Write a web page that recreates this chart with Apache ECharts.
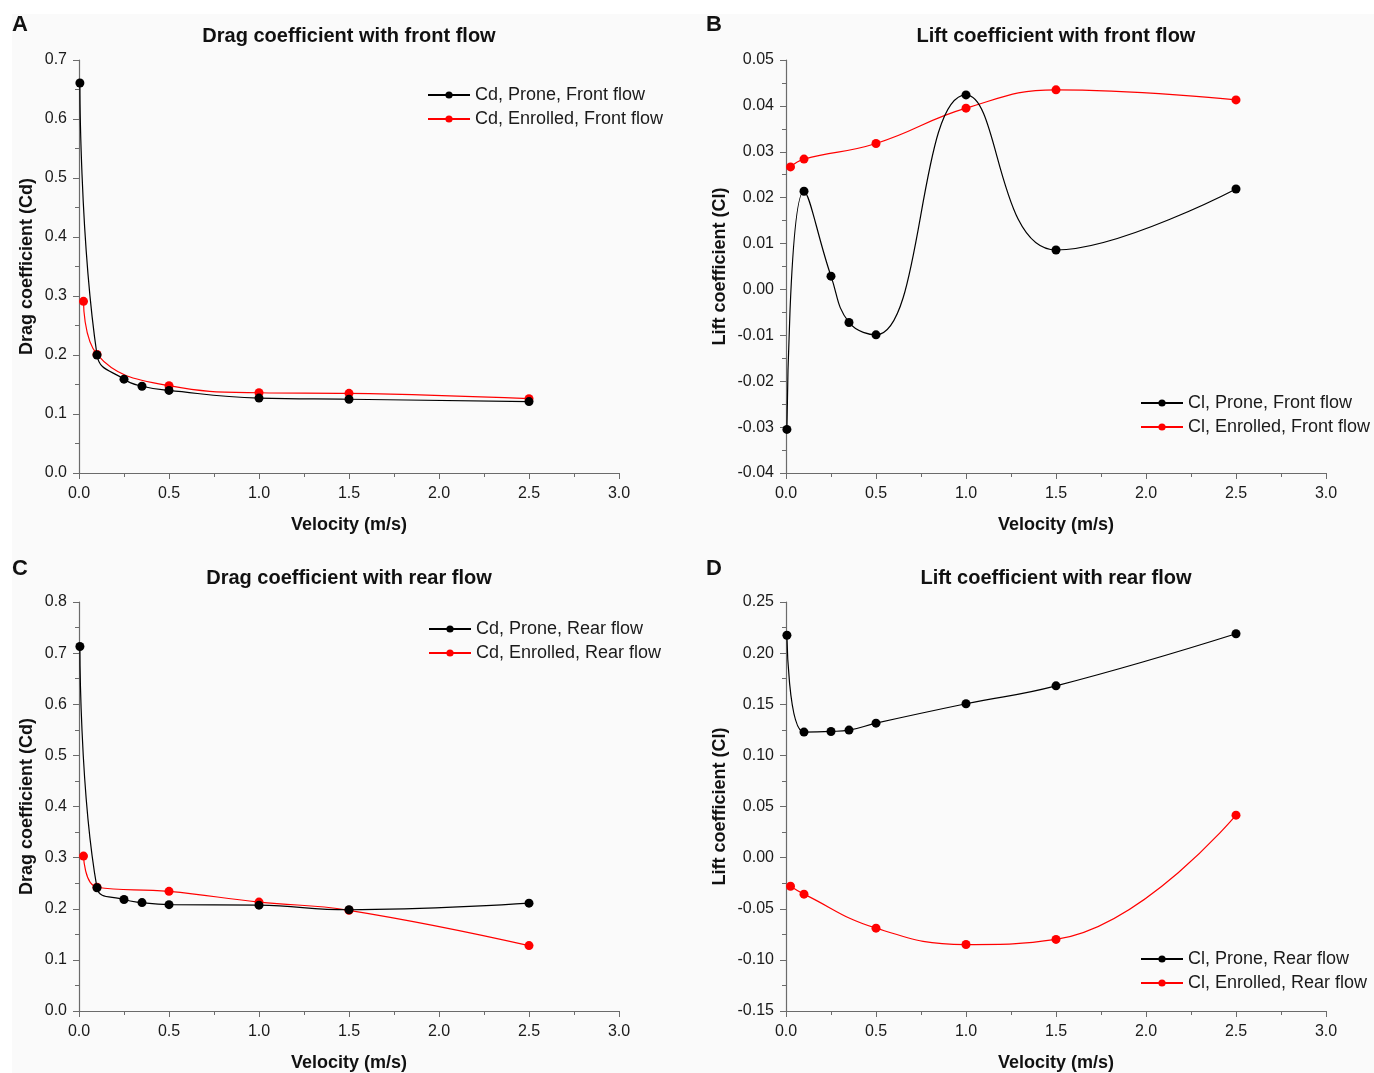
<!DOCTYPE html>
<html><head><meta charset="utf-8">
<script src="https://cdn.jsdelivr.net/npm/echarts@6/dist/echarts.min.js"></script>
<style>html,body{margin:0;padding:0;background:#fff;}#c{width:1374px;height:1073px;}</style>
</head><body><div id="c"></div>
<script>
// X values (velocity, m/s)
const xProne = [0.005, 0.1, 0.25, 0.35, 0.5, 1.0, 1.5, 2.5];
const xEnrolled = [0.025, 0.1, 0.5, 1.0, 1.5, 2.5];

// A: drag, front flow
const cdProneFront = [0.661, 0.200, 0.159, 0.147, 0.140, 0.127, 0.125, 0.121];
const cdEnrolledFront = [0.291, 0.201, 0.148, 0.136, 0.135, 0.126];
// B: lift, front flow
const clProneFront = [-0.0305, 0.0214, 0.0029, -0.0072, -0.0099, 0.0424, 0.0086, 0.0219];
const clEnrolledFront = [0.0267, 0.0284, 0.0318, 0.0395, 0.0435, 0.0413];
// C: drag, rear flow
const cdProneRear = [0.713, 0.241, 0.218, 0.212, 0.208, 0.207, 0.198, 0.211];
const cdEnrolledRear = [0.303, 0.242, 0.234, 0.213, 0.197, 0.128];
// D: lift, rear flow
const clProneRear = [0.2175, 0.1228, 0.1234, 0.1247, 0.1315, 0.1505, 0.168, 0.219];
const clEnrolledRear = [-0.028, -0.0357, -0.069, -0.085, -0.080, 0.0415];

const titles = ['Drag coefficient with front flow', 'Lift coefficient with front flow',
                'Drag coefficient with rear flow', 'Lift coefficient with rear flow'];
const letters = ['A', 'B', 'C', 'D'];
const yNames = ['Drag coefficient (Cd)', 'Lift coefficient (Cl)', 'Drag coefficient (Cd)', 'Lift coefficient (Cl)'];
const xName = 'Velocity (m/s)';
const seriesNames = [
  ['Cd, Prone, Front flow', 'Cd, Enrolled, Front flow'],
  ['Cl, Prone, Front flow', 'Cl, Enrolled, Front flow'],
  ['Cd, Prone, Rear flow', 'Cd, Enrolled, Rear flow'],
  ['Cl, Prone, Rear flow', 'Cl, Enrolled, Rear flow']
];
const yRanges = [[0, 0.7, 0.1, 1], [-0.04, 0.05, 0.01, 2], [0, 0.8, 0.1, 1], [-0.15, 0.25, 0.05, 2]];
const xRange = [0, 3, 0.5];
const dataSets = [
  [cdProneFront, cdEnrolledFront], [clProneFront, clEnrolledFront],
  [cdProneRear, cdEnrolledRear], [clProneRear, clEnrolledRear]
];

const FONT = '"Liberation Sans", Arial, sans-serif';
const grids = [
  {left: 79, top: 60, width: 540, height: 413},
  {left: 786, top: 60, width: 540, height: 413},
  {left: 79, top: 602, width: 540, height: 415},
  {left: 786, top: 602, width: 540, height: 415}
];
const legendPos = [[427, 86], [1140, 394], [428, 620], [1140, 950]];
const letterPos = [[12, 14], [706, 14], [12, 558], [706, 558]];

const axisColor = '#6b6b6b';
const option = {
  backgroundColor: '#ffffff',
  animation: false,
  textStyle: {fontFamily: FONT},
  grid: grids.map(g => Object.assign({containLabel: false}, g)),
  xAxis: grids.map((g, i) => ({
    gridIndex: i, type: 'value', min: xRange[0], max: xRange[1], interval: xRange[2],
    name: xName, nameLocation: 'middle', nameGap: 43,
    nameTextStyle: {fontSize: 18, fontWeight: 'bold', color: '#111', fontFamily: FONT},
    axisLine: {show: true, onZero: false, lineStyle: {color: axisColor, width: 1.2}},
    axisTick: {show: true, length: 6, lineStyle: {color: axisColor}},
    minorTick: {show: true, splitNumber: 2, length: 4, lineStyle: {color: axisColor}},
    splitLine: {show: false},
    axisLabel: {fontSize: 16, color: '#1a1a1a', margin: 13, fontFamily: FONT, formatter: v => v.toFixed(1)}
  })),
  yAxis: grids.map((g, i) => ({
    gridIndex: i, type: 'value', min: yRanges[i][0], max: yRanges[i][1], interval: yRanges[i][2],
    name: yNames[i], nameLocation: 'middle', nameGap: i % 2 === 0 ? 43 : 57,
    nameTextStyle: {fontSize: 18, fontWeight: 'bold', color: '#111', fontFamily: FONT},
    axisLine: {show: true, onZero: false, lineStyle: {color: axisColor, width: 1.2}},
    axisTick: {show: true, length: 6, lineStyle: {color: axisColor}},
    minorTick: {show: true, splitNumber: 2, length: 4, lineStyle: {color: axisColor}},
    splitLine: {show: false},
    axisLabel: {fontSize: 16, color: '#1a1a1a', margin: 12, fontFamily: FONT,
      formatter: v => v.toFixed(yRanges[i][3])}
  })),
  legend: legendPos.map((p, i) => ({
    left: p[0], top: p[1], orient: 'vertical', itemWidth: 42, itemHeight: 9, itemGap: 6,
    data: seriesNames[i],
    textStyle: {fontSize: 18, color: '#1a1a1a', fontFamily: FONT, padding: [0, 0, 0, 0]},
    padding: 0
  })),
  graphic: [
    {type: 'rect', shape: {x: 12, y: 14, width: 1362, height: 1059}, style: {fill: '#fafafa'}, z: -10, silent: true}
  ].concat(titles.map((t, i) => ({
    type: 'text', x: grids[i].left + grids[i].width / 2, y: grids[i].top - 24,
    style: {text: t, font: 'bold 20px ' + FONT, fill: '#111', align: 'center', verticalAlign: 'middle'}
  }))).concat(letters.map((l, i) => ({
    type: 'text', x: letterPos[i][0], y: letterPos[i][1],
    style: {text: l, font: 'bold 22px ' + FONT, fill: '#111', align: 'left', verticalAlign: 'top'}
  }))),
  series: []
};

dataSets.forEach((pair, i) => {
  const xsArr = [xProne, xEnrolled];
  const colors = ['#000000', '#ff0000'];
  pair.forEach((ys, k) => {
    option.series.push({
      name: seriesNames[i][k], type: 'line', xAxisIndex: i, yAxisIndex: i,
      data: ys.map((y, j) => [xsArr[k][j], y]),
      smooth: 0.45, symbol: 'circle', symbolSize: 9,
      lineStyle: {color: colors[k], width: 1.2},
      itemStyle: {color: colors[k]},
      z: k === 0 ? 3 : 2
    });
  });
});

const chart = echarts.init(document.getElementById('c'), null, {renderer: 'canvas'});
chart.setOption(option);
</script></body></html>
